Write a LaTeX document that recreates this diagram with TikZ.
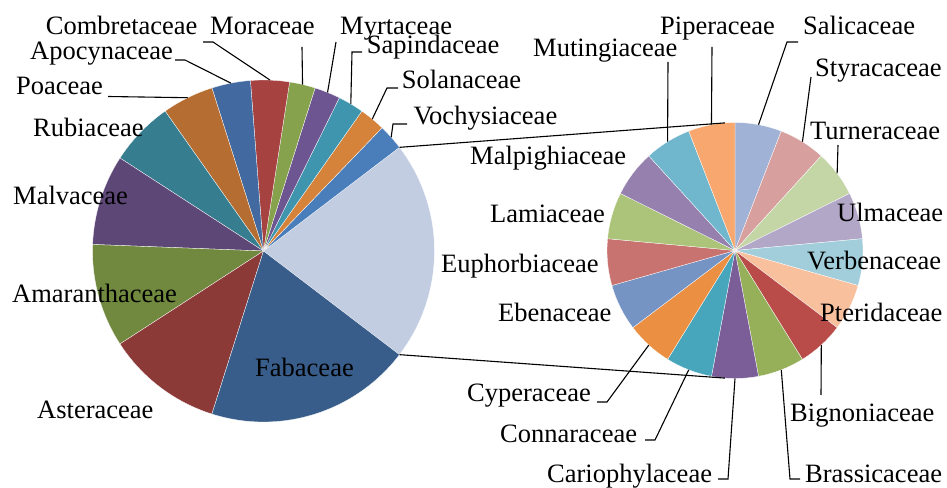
\documentclass[tikz,border=0pt]{standalone}
\usepackage{fontspec}
\setmainfont{Liberation Serif}
\usetikzlibrary{calc}
% left pie colours
\definecolor{cOther}{HTML}{C3CDE2}
\definecolor{cVoch}{HTML}{4A7EBB}
\definecolor{cSola}{HTML}{D5823A}
\definecolor{cSapi}{HTML}{3E95AD}
\definecolor{cMyrt}{HTML}{6D5592}
\definecolor{cMora}{HTML}{86A24C}
\definecolor{cComb}{HTML}{A64240}
\definecolor{cApoc}{HTML}{426AA0}
\definecolor{cPoac}{HTML}{B66D31}
\definecolor{cRubi}{HTML}{357D8F}
\definecolor{cMalv}{HTML}{5C4776}
\definecolor{cAmar}{HTML}{71893F}
\definecolor{cAste}{HTML}{8B3A38}
\definecolor{cFaba}{HTML}{385D8A}
% right pie colours
\definecolor{cSali}{HTML}{A0B3D6}
\definecolor{cStyr}{HTML}{D7A09F}
\definecolor{cTurn}{HTML}{C4D5A6}
\definecolor{cUlma}{HTML}{B3A7C7}
\definecolor{cVerb}{HTML}{A2CEDC}
\definecolor{cPter}{HTML}{F9C09E}
\definecolor{cBign}{HTML}{B94B49}
\definecolor{cBras}{HTML}{96B05A}
\definecolor{cCari}{HTML}{7B5E98}
\definecolor{cConn}{HTML}{47A5BC}
\definecolor{cCype}{HTML}{EB8F43}
\definecolor{cEben}{HTML}{7594C4}
\definecolor{cEuph}{HTML}{C97371}
\definecolor{cLami}{HTML}{ABC47A}
\definecolor{cMalp}{HTML}{9580AE}
\definecolor{cMuti}{HTML}{70B6CC}
\definecolor{cPipe}{HTML}{F8A86E}
\begin{document}
\begin{tikzpicture}[x=1pt,y=1pt,
  lbl/.style={anchor=base west, inner sep=0pt, font=\fontsize{26.5}{30}\selectfont},
  leader/.style={draw=black, line width=1.1pt},
  wedge/.style={draw=white, line width=0.3pt}]
\useasboundingbox (0,0) rectangle (947,487);
\coordinate (C1) at (263.5,236);
\coordinate (C2) at (735,236.5);
\def\rA{171}
\def\rB{128}
% left pie
\foreach \a/\b/\c in {-37.317/37.317/cOther, 37.317/46.098/cVoch, 46.098/54.878/cSola,
  54.878/63.659/cSapi, 63.659/72.439/cMyrt, 72.439/81.220/cMora, 81.220/94.390/cComb,
  94.390/107.561/cApoc, 107.561/125.122/cPoac, 125.122/147.073/cRubi,
  147.073/177.805/cMalv, 177.805/212.927/cAmar, 212.927/252.439/cAste, 252.439/322.683/cFaba}
  \path[fill=\c, wedge] (C1) -- ($(C1)+(\a:\rA)$) arc[start angle=\a, end angle=\b, radius=\rA] -- cycle;
% right pie
\foreach \i/\c in {0/cSali,1/cStyr,2/cTurn,3/cUlma,4/cVerb,5/cPter,6/cBign,7/cBras,8/cCari,
  9/cConn,10/cCype,11/cEben,12/cEuph,13/cLami,14/cMalp,15/cMuti,16/cPipe}{
  \pgfmathsetmacro\sa{90-\i*360/17}
  \pgfmathsetmacro\ea{\sa-360/17}
  \path[fill=\c, wedge] (C2) -- ($(C2)+(\sa:\rB)$) arc[start angle=\sa, end angle=\ea, radius=\rB] -- cycle;
}
% points on the pies
\coordinate (pComb) at ($(C1)+(87.8:\rA)$);
\coordinate (pMora) at ($(C1)+(76.8:\rA)$);
\coordinate (pMyrt) at ($(C1)+(68.0:\rA)$);
\coordinate (pSapi) at ($(C1)+(59.3:\rA)$);
\coordinate (pSola) at ($(C1)+(50.5:\rA)$);
\coordinate (pVoch) at ($(C1)+(41.7:\rA)$);
\coordinate (pApoc) at ($(C1)+(101.0:\rA)$);
\coordinate (pPoac) at ($(C1)+(116.3:\rA)$);
\coordinate (oTop) at ($(C1)+(37.317:\rA)$);
\coordinate (oBot) at ($(C1)+(-37.317:\rA)$);
\coordinate (sTop) at ($(C2)+(94.5:\rB)$);
\coordinate (sBot) at ($(C2)+(-94.5:\rB)$);
\coordinate (pPipe) at ($(C2)+(100.6:\rB)$);
\coordinate (pMuti) at ($(C2)+(121.8:\rB)$);
\coordinate (pSali) at ($(C2)+(79.4:\rB)$);
\coordinate (pStyr) at ($(C2)+(58.2:\rB)$);
\coordinate (pTurn) at ($(C2)+(37.06:\rB)$);
\coordinate (pBign) at ($(C2)+(-47.6:\rB)$);
\coordinate (pBras) at ($(C2)+(-68.8:\rB)$);
\coordinate (pCari) at ($(C2)+(-90:\rB)$);
\coordinate (pConn) at ($(C2)+(-111.2:\rB)$);
\coordinate (pCype) at ($(C2)+(-132.35:\rB)$);
% leader start points
\coordinate (lComb) at (203,445);
\coordinate (lMora) at (302,440);
\coordinate (lMyrt) at (336,445);
\coordinate (lSapi) at (362,435);
\coordinate (lSola) at (398,399);
\coordinate (lVoch) at (407,363);
\coordinate (lApoc) at (175,427);
\coordinate (lPoac) at (108,390.5);
\coordinate (lPipe) at (712,440);
\coordinate (lMuti) at (668,425);
\coordinate (lSali) at (798,445);
\coordinate (lStyr) at (811,410);
\coordinate (lTurn) at (838,342);
\coordinate (lCype) at (597,85);
\coordinate (lConn) at (645,47);
\coordinate (lCari) at (718,8);
\coordinate (lBras) at (800,8);
\coordinate (lBign) at (821,92);
% connectors between the pies
\draw[leader] (oTop) -- (sTop);
\draw[leader] (oBot) -- (sBot);
% leader lines
\draw[leader] (lComb) -- ++(10,0) -- (pComb);
\draw[leader] (lMora) -- (pMora);
\draw[leader] (lMyrt) -- (pMyrt);
\draw[leader] (lSapi) -- ++(-10,0) -- (pSapi);
\draw[leader] (lSola) -- ++(-11,0) -- (pSola);
\draw[leader] (lVoch) -- ++(-14,0) -- (pVoch);
\draw[leader] (lApoc) -- ++(10,0) -- (pApoc);
\draw[leader] (lPoac) -- (pPoac);
\draw[leader] (lPipe) -- (pPipe);
\draw[leader] (lMuti) -- (pMuti);
\draw[leader] (lSali) -- ++(-11,0) -- (pSali);
\draw[leader] (lStyr) -- (pStyr);
\draw[leader] (lTurn) -- (pTurn);
\draw[leader] (lCype) -- ++(10,0) -- (pCype);
\draw[leader] (lConn) -- ++(10,0) -- (pConn);
\draw[leader] (lCari) -- ++(10,0) -- (pCari);
\draw[leader] (lBras) -- ++(-10,0) -- (pBras);
\draw[leader] (lBign) -- (pBign);
% labels, left pie
\node[lbl] (tComb) at (45.7,452) {Combretaceae};
\node[lbl] (tMora) at (210,452) {Moraceae};
\node[lbl] (tMyrt) at (340,452) {Myrtaceae};
\node[lbl] (tSapi) at (366.7,433.7) {Sapindaceae};
\node[lbl] (tApoc) at (30,427) {Apocynaceae};
\node[lbl] (tPoac) at (16,392) {Poaceae};
\node[lbl] (tSola) at (401.7,398.7) {Solanaceae};
\node[lbl] (tVoch) at (413.3,362) {Vochysiaceae};
\node[lbl] (tRubi) at (33,350) {Rubiaceae};
\node[lbl] (tMalv) at (13,282) {Malvaceae};
\node[lbl] (tAmar) at (12,184) {Amaranthaceae};
\node[lbl] (tAste) at (37,68) {Asteraceae};
\node[lbl] (tFaba) at (255,110) {Fabaceae};
% labels, right pie
\node[lbl] (tPipe) at (660,452) {Piperaceae};
\node[lbl] (tSali) at (803,452) {Salicaceae};
\node[lbl] (tMuti) at (533,430) {Mutingiaceae};
\node[lbl] (tStyr) at (815,410) {Styracaceae};
\node[lbl] (tTurn) at (810,347) {Turneraceae};
\node[lbl] (tMalp) at (470,322) {Malpighiaceae};
\node[lbl] (tLami) at (490,264) {Lamiaceae};
\node[lbl] (tUlma) at (837,265) {Ulmaceae};
\node[lbl] (tEuph) at (441,214) {Euphorbiaceae};
\node[lbl] (tVerb) at (807,217.7) {Verbenaceae};
\node[lbl] (tEben) at (498,165) {Ebenaceae};
\node[lbl] (tPter) at (820,165) {Pteridaceae};
\node[lbl] (tCype) at (467,85) {Cyperaceae};
\node[lbl] (tBign) at (790,65) {Bignoniaceae};
\node[lbl] (tConn) at (500,45) {Connaraceae};
\node[lbl] (tCari) at (547,5) {Cariophylaceae};
\node[lbl] (tBras) at (805,5) {Brassicaceae};
\end{tikzpicture}
\end{document}
